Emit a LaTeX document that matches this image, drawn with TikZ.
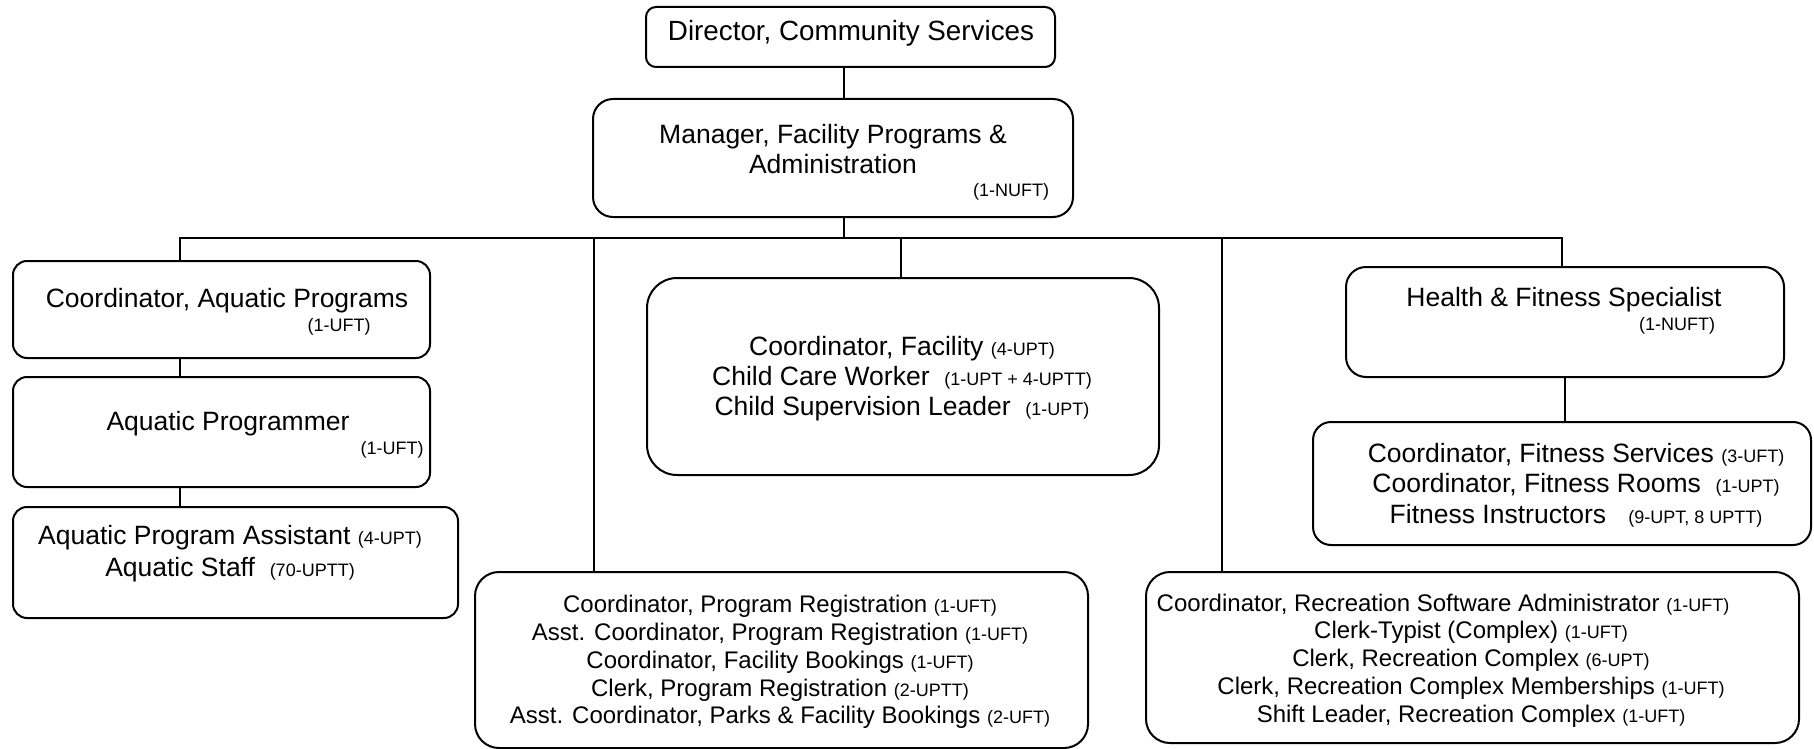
\documentclass[tikz,border=0pt]{standalone}
\usepackage{fontspec}
\setmainfont{Liberation Sans}
\usetikzlibrary{fit}
\newcommand{\fte}[1]{{\fontsize{9}{10}\selectfont #1}}

\begin{document}
\begin{tikzpicture}[x=0.5pt,y=-0.5pt,
  box/.style={draw, line width=1pt, rounded corners=#1, inner sep=0pt},
  box/.default=7pt,
  staff/.style={font=\fontsize{13.25}{15}\selectfont, align=center, inner sep=0pt},
  small/.style={font=\fontsize{12}{13.9}\selectfont, align=center, inner sep=0pt},
  count/.style={font=\fontsize{9}{10}\selectfont, inner sep=0pt},
  link/.style={line width=1pt}]
\useasboundingbox (0,0) rectangle (1814,749);

% boxes
\node[box=5pt, fit={(646,7) (1055,67)}] (dir) {};		%director
\node[box=10pt, fit={(593,99) (1073,217)}] (mgr) {};	%manager
\node[box, fit={(13,261) (430,358)}] (aqc) {};			%coord aquatic
\node[box, fit={(13,377) (430,487)}] (aqp) {};			%programmer
\node[box, fit={(13,507) (458,618)}] (aqa) {};			%assistant
\node[box=15pt, fit={(647,278) (1159,475)}] (fac) {};	%facility
\node[box=12pt, fit={(475,572) (1088,748)}] (reg) {};	%registration
\node[box=10pt, fit={(1346,267) (1784,377)}] (hfs) {};	%health
\node[box=9pt, fit={(1313,422) (1811,545)}] (fitn) {};	%fitness
\node[box=12pt, fit={(1146,572) (1799,743)}] (rec) {};	%recreation

% texts
\node[staff, font=\fontsize{13.9}{15}\selectfont] (dir-t) at (851,33) {Director, Community Services};
\node[staff] (mgr-t) at (833,149) {Manager, Facility Programs \&\\Administration};
\node[count] (mgr-c) at (1011,192) {(1-NUFT)};
\node[staff] (aqc-t) at (227,301) {Coordinator, Aquatic Programs};
\node[count] (aqc-c) at (339,327) {(1-UFT)};
\node[staff] (aqp-t) at (228,424) {Aquatic Programmer};
\node[count] (aqp-c) at (392,450) {(1-UFT)};
\node[staff, font=\fontsize{13.25}{16}\selectfont] (aqa-t) at (230,554) {Aquatic Program Assistant \fte{(4-UPT)}\\
  Aquatic Staff~~\fte{(70-UPTT)}};
\node[staff] (fac-t) at (902,379) {Coordinator, Facility \fte{(4-UPT)}\\
  Child Care Worker~~\fte{(1-UPT + 4-UPTT)}\\
  Child Supervision Leader~~\fte{(1-UPT)}};
\node[small] (reg-t) at (780,662) {Coordinator, Program Registration \fte{(1-UFT)}\\
  Asst. Coordinator, Program Registration \fte{(1-UFT)}\\
  Coordinator, Facility Bookings \fte{(1-UFT)}\\
  Clerk, Program Registration \fte{(2-UPTT)}\\
  Asst. Coordinator, Parks \& Facility Bookings \fte{(2-UFT)}};
\node[staff] (hfs-t) at (1564,300) {Health \& Fitness Specialist};
\node[count] (hfs-c) at (1677,326) {(1-NUFT)};
\node[staff, font=\fontsize{13.25}{15.25}\selectfont] (fitn-t) at (1576,485) {Coordinator, Fitness Services \fte{(3-UFT)}\\
  Coordinator, Fitness Rooms~~\fte{(1-UPT)}\\
  Fitness Instructors~~~\fte{(9-UPT, 8 UPTT)}};
\node[small] (rec-t) at (1471,660.5) {Coordinator, Recreation Software Administrator \fte{(1-UFT)}\hspace*{28pt}\\
  Clerk-Typist (Complex) \fte{(1-UFT)}\\
  Clerk, Recreation Complex \fte{(6-UPT)}\\
  Clerk, Recreation Complex Memberships \fte{(1-UFT)}\\
  Shift Leader, Recreation Complex \fte{(1-UFT)}};

% connectors
\coordinate (spine) at (844,238);
\coordinate (d1) at (180,238);
\coordinate (d2) at (594,238);
\coordinate (d3) at (901,238);
\coordinate (d4) at (1222,238);
\coordinate (d5) at (1562,238);

\draw[link] (spine |- dir.south) -- (spine |- mgr.north);
\draw[link] (spine |- mgr.south) -- (spine);
\draw[link] (d1 |- aqc.north) -- (d1) -- (d5) -- (d5 |- hfs.north);	%bus
\foreach \d/\b in {d2/reg, d3/fac, d4/rec}
  \draw[link] (\d) -- (\d |- \b.north);
\draw[link] (d1 |- aqc.south) -- (d1 |- aqp.north);
\draw[link] (d1 |- aqp.south) -- (d1 |- aqa.north);
\draw[link] (hfs.south) -- (hfs.south |- fitn.north);

\end{tikzpicture}
\end{document}
